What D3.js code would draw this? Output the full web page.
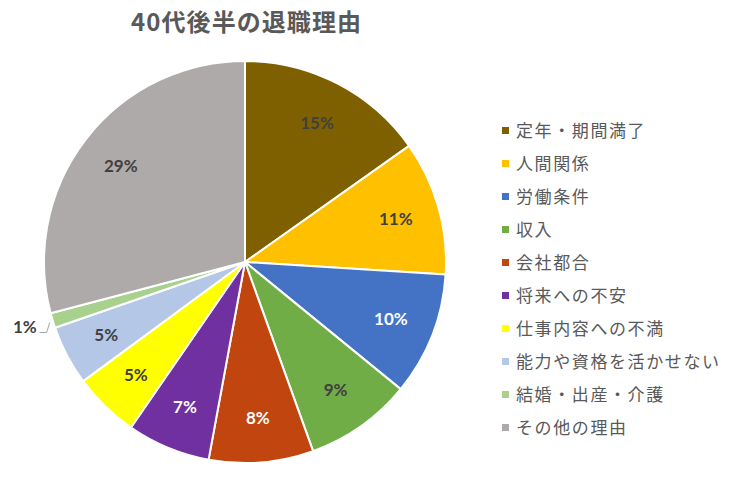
<!DOCTYPE html>
<html><head><meta charset="utf-8">
<script src="https://cdn.jsdelivr.net/npm/d3@7"></script>
<style>body{margin:0;background:#fff;}svg{display:block;}</style>
</head><body>
<svg id="chart" width="744" height="477"></svg>
<script>
const title = "40代後半の退職理由";
const categories = ["定年・期間満了","人間関係","労働条件","収入","会社都合","将来への不安","仕事内容への不満","能力や資格を活かせない","結婚・出産・介護","その他の理由"];
const values = [15.2, 10.8, 9.9, 8.6, 8.4, 6.7, 5.3, 4.8, 1.2, 29.1];
const labels = ["15%","11%","10%","9%","8%","7%","5%","5%","1%","29%"];
const colors = ["#7F6000","#FFC000","#4472C4","#70AD47","#C0450F","#7030A0","#FFFF00","#B4C7E7","#A9D18E","#AEAAAA"];
const labelColors = ["#404040","#404040","#ffffff","#404040","#ffffff","#ffffff","#404040","#404040","#404040","#404040"];

const svg = d3.select("#chart");
const cx = 245, cy = 262, r = 201;
const font = "'Noto Sans CJK JP','Noto Sans',sans-serif";
const numFont = "Lato,'Open Sans',sans-serif";

svg.append("text").attr("x", 246).attr("y", 31).attr("text-anchor","middle")
  .attr("font-family", font).attr("font-size", 24).attr("font-weight","bold")
  .attr("fill","#595959").attr("textLength", 230).attr("lengthAdjust","spacing").text(title);

const pie = d3.pie().sort(null).value(d => d)(values);
const arc = d3.arc().innerRadius(0).outerRadius(r);
const g = svg.append("g").attr("transform", `translate(${cx},${cy})`);
g.selectAll("path").data(pie).join("path")
  .attr("d", arc).attr("fill", (d,i) => colors[i])
  .attr("stroke", "#fff").attr("stroke-width", 2).attr("stroke-linejoin","round");

const labelArc = d3.arc().innerRadius(r*0.78).outerRadius(r*0.78);
pie.forEach((d,i) => {
  if (i === 8) {
    const a = (d.startAngle + d.endAngle)/2;
    const ex = Math.sin(a)*r, ey = -Math.cos(a)*r;
    g.append("path").attr("d", `M${ex-3},${ey+2} L${ex-6},${ey+12} L${ex-13},${ey+12}`)
      .attr("fill","none").attr("stroke","#A6A6A6").attr("stroke-width",1);
    g.append("text").attr("x", ex - 16).attr("y", ey + 7).attr("dy","0.35em")
      .attr("text-anchor","end").attr("font-family",numFont)
      .attr("font-size",17).attr("font-weight","bold").attr("fill",labelColors[i]).text(labels[i]);
    return;
  }
  const [x,y] = labelArc.centroid(d);
  g.append("text").attr("x", x).attr("y", y).attr("dy","0.35em").attr("text-anchor","middle")
    .attr("font-family",numFont).attr("font-size",17).attr("font-weight","bold")
    .attr("fill", labelColors[i]).text(labels[i]);
});

const leg = svg.append("g");
categories.forEach((c,i) => {
  const y = 131 + i*33;
  leg.append("rect").attr("x", 502).attr("y", y-4).attr("width", 7).attr("height", 7).attr("fill", colors[i]);
  leg.append("text").attr("x", 516).attr("y", y).attr("dy","0.35em")
    .attr("font-family", font).attr("font-size", 17).attr("letter-spacing", 1.6)
    .attr("fill","#595959").text(c);
});
</script>
</body></html>
